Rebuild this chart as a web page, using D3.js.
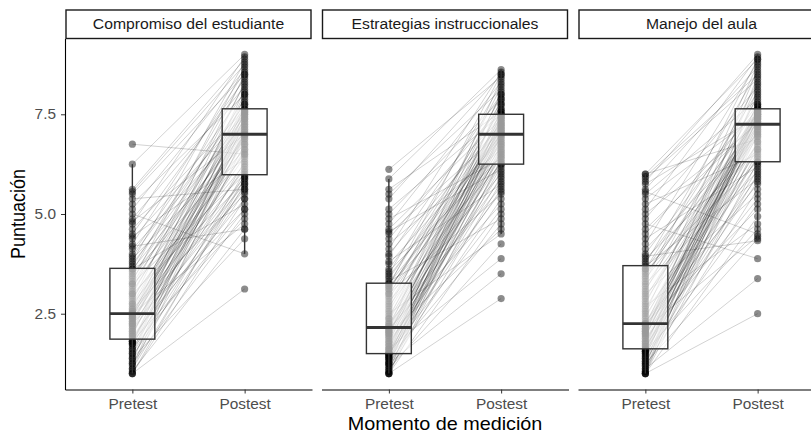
<!DOCTYPE html>
<html>
<head>
  <meta charset="utf-8">
  <style>
    body { margin: 0; background: #fff; }

    svg text {
      font-family: "Liberation Sans", Arial, Helvetica, sans-serif;
    }

    svg .tick text {
      font-size: 14px;
      fill: #4d4d4d;
    }

    svg .tick line {
      stroke: #333;
      stroke-width: 1px;
    }

    svg .domain {
      stroke: #000;
      stroke-width: 1.1px;
    }

    svg .pair {
      stroke: #000;
      stroke-opacity: 0.2;
      stroke-width: 0.9px;
      fill: none;
    }

    svg .dot {
      fill: #000;
      fill-opacity: 0.45;
    }

    svg .box {
      fill: #fff;
      fill-opacity: 0.6;
      stroke: #333;
      stroke-width: 1.4px;
    }

    svg .whisker {
      stroke: #333;
      stroke-width: 1.4px;
    }

    svg .median {
      stroke: #333;
      stroke-width: 2.8px;
    }

    svg .strip rect {
      fill: #fff;
      stroke: #1a1a1a;
      stroke-width: 1.4px;
    }

    svg .strip text {
      font-size: 14.3px;
      fill: #1a1a1a;
    }

    svg .title {
      font-size: 18px;
      fill: #000;
    }
  </style>
</head>

<body>
  <div id="chart"></div>
  <script src="https://cdn.jsdelivr.net/npm/d3@7/dist/d3.min.js"></script>
  <script>
    // facets and measurement moments
    var facets = ["Compromiso del estudiante", "Estrategias instruccionales", "Manejo del aula"];
    var moments = ["Pretest", "Postest"];
    var yTicks = [2.5, 5.0, 7.5];

    // paired scores, one entry per student (same index = same student)
    var preCompromiso = [
      1.00,1.00,1.00,1.06,1.12,1.12,1.19,1.25,1.25,1.31,
      1.38,1.38,1.44,1.50,1.50,1.56,1.62,1.62,1.69,1.75,
      1.75,1.75,1.81,1.81,1.81,1.88,1.94,1.94,2.00,2.00,
      2.06,2.06,2.12,2.12,2.19,2.19,2.25,2.25,2.25,2.31,
      2.31,2.38,2.38,2.38,2.44,2.44,2.44,2.50,2.50,2.50,
      2.50,2.56,2.56,2.62,2.62,2.69,2.75,2.75,2.81,2.88,
      2.94,3.00,3.00,3.06,3.12,3.19,3.25,3.25,3.31,3.38,
      3.44,3.50,3.56,3.62,3.62,3.69,3.75,3.81,3.88,3.94,
      4.00,4.12,4.19,4.25,4.38,4.44,4.50,4.62,4.75,4.81,
      4.88,5.00,5.12,5.25,5.38,5.50,5.56,5.62,6.25,6.75];
    var postCompromiso = [
      3.12,5.38,5.88,4.62,7.00,5.75,7.31,5.00,6.06,7.56,
      4.38,6.75,5.56,7.12,5.88,7.44,5.12,6.31,6.94,7.69,
      5.69,7.06,4.88,6.62,7.38,5.94,7.94,5.38,6.88,7.25,
      6.19,7.56,5.62,7.00,6.56,8.12,5.94,7.31,5.12,7.00,
      7.50,6.44,7.75,5.75,7.12,6.81,8.31,6.12,7.38,4.75,
      7.19,6.69,7.62,5.50,8.00,6.94,6.25,7.50,8.50,7.00,
      6.50,7.81,5.81,7.38,8.25,6.88,7.56,6.00,8.69,7.19,
      7.62,6.62,8.44,7.06,5.25,7.88,7.44,8.81,6.75,7.75,
      8.06,7.25,4.62,8.56,7.50,6.38,8.38,7.62,8.94,7.00,
      8.19,4.00,8.62,8.00,5.62,8.50,8.75,8.88,9.00,6.50];

    var preEstrategias = [
      1.00,1.00,1.00,1.00,1.06,1.06,1.12,1.12,1.19,1.19,
      1.25,1.25,1.25,1.31,1.31,1.38,1.38,1.38,1.44,1.44,
      1.44,1.50,1.50,1.50,1.50,1.50,1.56,1.56,1.62,1.62,
      1.62,1.69,1.69,1.75,1.75,1.81,1.81,1.88,1.88,1.94,
      1.94,2.00,2.00,2.00,2.06,2.06,2.06,2.12,2.12,2.12,
      2.19,2.19,2.25,2.25,2.31,2.38,2.38,2.44,2.50,2.56,
      2.62,2.69,2.75,2.81,2.88,2.94,3.00,3.00,3.06,3.12,
      3.12,3.19,3.19,3.25,3.25,3.31,3.38,3.44,3.50,3.56,
      3.62,3.75,3.81,3.94,4.00,4.12,4.25,4.38,4.50,4.56,
      4.62,4.75,4.88,5.00,5.12,5.38,5.50,5.62,5.88,6.12];
    var postEstrategias = [
      2.88,6.38,5.00,7.00,5.81,7.31,4.25,6.69,6.19,7.44,
      5.38,7.06,3.50,6.56,7.62,5.94,6.88,4.75,7.19,6.31,
      7.38,5.62,6.75,7.88,6.50,5.12,7.12,6.25,7.50,6.94,
      3.88,6.62,7.25,6.06,8.06,7.00,5.56,7.38,6.44,7.75,
      6.81,4.62,7.56,7.06,5.88,7.31,6.56,8.38,5.25,7.19,
      6.31,7.75,6.94,5.69,7.44,6.69,8.00,7.12,4.50,7.25,
      8.19,6.50,7.44,6.00,7.12,7.94,6.81,5.50,7.62,7.00,
      7.19,6.25,8.50,6.75,7.81,4.88,7.31,7.00,8.25,6.44,
      7.50,6.88,5.75,8.00,7.25,8.56,6.62,7.69,7.06,6.12,
      7.38,8.31,6.38,7.88,7.50,8.50,8.12,7.56,8.62,8.44];

    var preManejo = [
      1.00,1.00,1.00,1.00,1.06,1.06,1.12,1.12,1.19,1.19,
      1.25,1.25,1.31,1.31,1.38,1.38,1.44,1.44,1.50,1.50,
      1.56,1.56,1.56,1.62,1.62,1.62,1.69,1.69,1.75,1.75,
      1.81,1.81,1.88,1.88,1.94,1.94,2.00,2.00,2.00,2.06,
      2.06,2.06,2.12,2.12,2.12,2.19,2.19,2.19,2.25,2.25,
      2.25,2.31,2.38,2.44,2.50,2.56,2.62,2.69,2.75,2.81,
      2.88,2.94,3.00,3.06,3.12,3.19,3.25,3.31,3.38,3.44,
      3.50,3.56,3.62,3.62,3.69,3.75,3.81,3.88,3.94,4.00,
      4.12,4.25,4.38,4.50,4.62,4.75,4.88,5.00,5.12,5.25,
      5.38,5.50,5.56,5.62,5.75,5.81,5.88,5.94,6.00,6.00];
    var postManejo = [
      2.50,6.31,7.25,4.94,7.56,6.81,3.38,7.44,5.62,7.81,
      7.00,4.38,7.50,6.00,8.12,6.56,7.38,5.25,7.62,7.12,
      6.12,7.56,4.62,7.31,8.44,6.69,7.69,5.81,7.38,7.06,
      7.50,6.44,8.00,5.38,7.19,7.62,6.81,8.62,5.94,7.38,
      6.62,7.75,7.12,4.44,7.50,6.25,8.25,7.25,5.12,7.56,
      7.19,5.75,7.62,6.94,8.75,6.38,7.44,4.75,7.94,7.31,
      7.56,6.75,5.50,8.31,7.06,7.44,6.06,8.88,6.94,7.69,
      7.38,6.31,8.06,7.19,5.88,8.56,7.50,6.62,4.33,7.75,
      7.00,8.81,6.19,7.62,7.31,3.88,8.19,7.25,8.94,6.50,
      7.50,7.88,4.50,8.69,7.44,9.00,8.38,8.50,8.88,6.88];

    var preScores  = [preCompromiso, preEstrategias, preManejo];
    var postScores = [postCompromiso, postEstrategias, postManejo];

    // layout (pixels)
    var width = 811, height = 434;
    var panelLeft = [65, 321.5, 578],
        panelW = 247,
        yTop = 38.5,
        yBottom = 389.5,
        stripTop = 10,
        stretch = 1.1;   // text in the reference is slightly wide

    var svg = d3.select("#chart")
      .append("svg")
        .attr("width", width)
        .attr("height", height);

    // scales
    var yScale = d3.scaleLinear().domain([0.6, 9.4]).range([yBottom, yTop]);
    var xScale = d3.scalePoint().domain(moments).range([0, panelW]).padding(0.6);
    var boxHalf = 0.2 * xScale.step();

    function boxStats(values) {
      var s = values.slice().sort(d3.ascending);
      var q1 = d3.quantileSorted(s, 0.25),
          med = d3.quantileSorted(s, 0.5),
          q3 = d3.quantileSorted(s, 0.75),
          iqr = q3 - q1;
      return {
        q1: q1, med: med, q3: q3,
        lo: d3.min(s.filter(function (v) { return v >= q1 - 1.5 * iqr; })),
        hi: d3.max(s.filter(function (v) { return v <= q3 + 1.5 * iqr; }))
      };
    }

    facets.forEach(function (facet, i) {
      var pre = preScores[i], post = postScores[i];
      var g = svg.append("g")
        .attr("transform", "translate(" + panelLeft[i] + ",0)");

      // strip
      var strip = g.append("g").classed("strip", true);
      strip.append("rect")
        .attr("x", 1)
        .attr("y", stripTop)
        .attr("width", panelW - 2)
        .attr("height", yTop - stripTop);
      strip.append("text")
        .attr("transform", "translate(" + (panelW / 2) + "," + ((stripTop + yTop) / 2) + ") scale(" + stretch + ",1)")
        .attr("dy", "0.36em")
        .style("text-anchor", "middle")
        .text(facet);

      // paired lines
      g.selectAll("line.pair")
        .data(pre)
        .enter().append("line")
          .classed("pair", true)
          .attr("x1", xScale("Pretest"))
          .attr("y1", function (d) { return yScale(d); })
          .attr("x2", xScale("Postest"))
          .attr("y2", function (d, j) { return yScale(post[j]); });

      // points
      [pre, post].forEach(function (vals, k) {
        g.selectAll(null)
          .data(vals)
          .enter().append("circle")
            .classed("dot", true)
            .attr("cx", xScale(moments[k]))
            .attr("cy", function (d) { return yScale(d); })
            .attr("r", 3.6);
      });

      // boxplots on top
      [pre, post].forEach(function (vals, k) {
        var st = boxStats(vals), cx = xScale(moments[k]);
        g.append("line").classed("whisker", true)
          .attr("x1", cx).attr("x2", cx)
          .attr("y1", yScale(st.q3)).attr("y2", yScale(st.hi));
        g.append("line").classed("whisker", true)
          .attr("x1", cx).attr("x2", cx)
          .attr("y1", yScale(st.q1)).attr("y2", yScale(st.lo));
        g.append("rect").classed("box", true)
          .attr("x", cx - boxHalf)
          .attr("y", yScale(st.q3))
          .attr("width", 2 * boxHalf)
          .attr("height", yScale(st.q1) - yScale(st.q3));
        g.append("line").classed("median", true)
          .attr("x1", cx - boxHalf).attr("x2", cx + boxHalf)
          .attr("y1", yScale(st.med)).attr("y2", yScale(st.med));
      });

      // x axis
      var xa = g.append("g")
        .attr("transform", "translate(0," + yBottom + ")")
        .call(d3.axisBottom(xScale).tickSize(4).tickSizeOuter(0).tickPadding(5.5));
      xa.selectAll(".tick text").attr("transform", "scale(" + stretch + ",1)");

      // y axis only on the first panel
      if (i === 0) {
        var ya = g.append("g")
          .call(d3.axisLeft(yScale).tickValues(yTicks).tickFormat(d3.format(".1f"))
            .tickSize(4).tickSizeOuter(0).tickPadding(5));
        ya.selectAll(".tick text")
          .attr("x", -9 / stretch)
          .attr("transform", "scale(" + stretch + ",1)");
      }
    });

    // axis titles
    svg.append("text")
      .classed("title", true)
      .attr("transform", "translate(" + ((panelLeft[0] + panelLeft[2] + panelW) / 2) + ",429.5) scale(" + stretch + ",1)")
      .style("text-anchor", "middle")
      .text("Momento de medición");

    svg.append("text")
      .classed("title", true)
      .attr("transform", "translate(25," + ((yTop + yBottom) / 2) + ") scale(" + stretch + ",1) rotate(-90)")
      .style("text-anchor", "middle")
      .text("Puntuación");
  </script>
</body>
</html>
